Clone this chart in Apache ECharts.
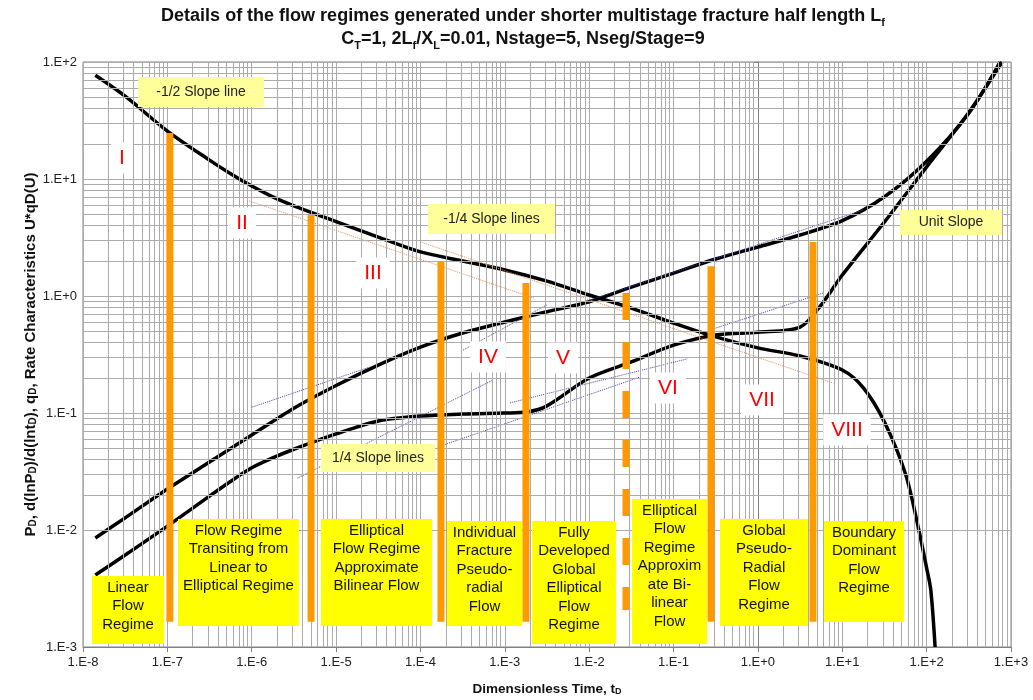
<!DOCTYPE html>
<html>
<head>
<meta charset="utf-8">
<title>Flow regimes - shorter multistage fracture half length</title>
<script src="https://cdn.jsdelivr.net/npm/echarts@6/dist/echarts.min.js"></script>
<style>
  html, body { margin: 0; padding: 0; background: #fff; }
  #chart { width: 1033px; height: 700px; }
</style>
</head>
<body>
<div id="chart"></div>
<script>
const fontFamily = '"Liberation Sans", Arial, sans-serif'

// curves: dimensionless time t_D and value
const qdT = [1.4e-8, 3.16e-8, 1e-7, 3.16e-7, 5.5e-7, 1e-6, 1.8e-6, 3.16e-6, 1e-5, 3.16e-5, 1e-4, 3.16e-4, 1e-3, 3.16e-3, 1e-2, 3.16e-2, 0.1, 0.316, 1, 3.16, 10, 17.8, 31.6, 56.2, 79.4, 100, 112, 126]
const qdV = [77, 51, 25.7, 14.5, 11.2, 8.7, 7.0, 5.9, 4.33, 3.19, 2.38, 1.99, 1.67, 1.34, 1.02, 0.789, 0.587, 0.447, 0.36, 0.307, 0.233, 0.164, 0.0838, 0.0301, 0.0106, 0.00473, 0.00307, 0.001]

const pdT = [1.4e-8, 3.16e-8, 1e-7, 3.16e-7, 1e-6, 3.16e-6, 1e-5, 3.16e-5, 1e-4, 3.16e-4, 1e-3, 3.16e-3, 1e-2, 3.16e-2, 0.1, 0.316, 1, 3.16, 10, 31.6, 100, 316, 741]
const pdV = [0.00855, 0.0127, 0.0224, 0.0381, 0.0649, 0.11, 0.172, 0.257, 0.366, 0.483, 0.6, 0.733, 0.893, 1.19, 1.57, 2.07, 2.62, 3.32, 4.4, 7.05, 14.2, 36.5, 100]

const derivT = [1.4e-8, 3.16e-8, 1e-7, 3.16e-7, 5.6e-7, 1e-6, 1.8e-6, 3.16e-6, 1e-5, 3.16e-5, 1e-4, 3.16e-4, 1e-3, 1.83e-3, 3.16e-3, 1e-2, 3.16e-2, 0.1, 0.316, 1, 3.16, 5.6, 10, 31.6, 100, 316, 783]
const derivV = [0.00412, 0.00611, 0.0108, 0.0195, 0.026, 0.034, 0.0415, 0.049, 0.0662, 0.0855, 0.0942, 0.098, 0.1, 0.102, 0.115, 0.199, 0.273, 0.38, 0.465, 0.49, 0.543, 0.837, 1.51, 4.29, 12.7, 37, 100]

// regime boundaries (orange bars)
const regimeT = [1.07e-7, 5.05e-6, 1.75e-4, 1.78e-3, 2.73e-2, 0.278, 4.5]
const regimeTop = [24.7, 4.92, 1.95, 1.29, 1.06, 1.8, 2.9]
const regimeBottom = [0.00164, 0.00164, 0.00164, 0.00164, 0.00207, 0.00164, 0.00164]
const regimeDashed = [false, false, false, false, true, false, false]

// slope guide lines: [start, end]
const quarterDownT = [[8.8e-7, 2.2e-3], [1e-4, 7.8]]
const quarterDownV = [[6.6, 0.96], [2.9, 0.18]]
const quarterUpT = [[1e-6, 2.5e-5], [3.2e-4, 3.16e-3], [3.5e-6, 7.2e-4], [1.15e-3, 0.145], [1.6e-4, 0.04], [0.27, 5.9], [0.0102, 17.6]]
const quarterUpV = [[0.112, 0.247], [0.345, 0.84], [0.0278, 0.191], [0.122, 0.29], [0.0512, 0.203], [0.512, 1.06], [0.925, 5.43]]

// axis range (decades) and tick labels
const tDecades = [-8, -7, -6, -5, -4, -3, -2, -1, 0, 1, 2, 3]
const vDecades = [-3, -2, -1, 0, 1, 2]

// annotation text
const regimeTexts = [
  'Linear\nFlow\nRegime',
  'Flow Regime\nTransiting from\nLinear to\nElliptical Regime',
  'Elliptical\nFlow Regime\nApproximate\nBilinear Flow',
  'Individual\nFracture\nPseudo-\nradial\nFlow',
  'Fully\nDeveloped\nGlobal\nElliptical\nFlow\nRegime',
  'Elliptical\nFlow\nRegime\nApproxim\nate Bi-\nlinear\nFlow',
  'Global\nPseudo-\nRadial\nFlow\nRegime',
  'Boundary\nDominant\nFlow\nRegime'
]
const slopeTexts = ['-1/2 Slope line', '-1/4 Slope lines', '1/4 Slope lines', 'Unit Slope']
const romanTexts = ['I', 'II', 'III', 'IV', 'V', 'VI', 'VII', 'VIII']

// layout of the annotation boxes (pixels)
const regimeBoxes = [
  [92, 576, 72, 68], [178, 519, 121, 107], [321, 519, 111, 107], [447, 521, 75, 105],
  [532, 521, 84, 123], [632, 499, 75, 145], [720, 519, 88, 107], [824, 521, 80, 101]
]
const slopeBoxes = [[138, 77, 126, 30], [428, 204, 127, 30], [321, 444, 114, 28], [900, 210, 102, 25]]
const romanPos = [[122, 158], [242, 223], [373, 273], [488, 357], [563, 358], [668, 388], [762, 400], [847, 430]]

const gridColor = '#ababab'

// x axis works on log10(t_D) so every decade gets a tick
const lx = t => Math.log10(t)

function expText(e) {
  return '1.E' + (e >= 0 ? '+' : '-') + Math.abs(e)
}

function zip(ts, vs) {
  return ts.map((t, i) => [lx(t), vs[i]])
}

// minor gridlines at 2..9 of every decade
const minorLines = []
tDecades.slice(0, -1).forEach(e => {
  for (let k = 2; k <= 9; k++) minorLines.push({ xAxis: e + Math.log10(k) })
})
vDecades.slice(0, -1).forEach(e => {
  for (let k = 2; k <= 9; k++) minorLines.push({ yAxis: k * Math.pow(10, e) })
})

function subRich(size) {
  return { s: { fontFamily, fontSize: size, fontWeight: 'bold', color: '#111', verticalAlign: 'bottom', lineHeight: size + 1 } }
}

const series = []

series.push({
  type: 'line',
  data: [],
  z: 1,
  silent: true,
  markLine: {
    silent: true,
    animation: false,
    symbol: ['none', 'none'],
    label: { show: false },
    lineStyle: { color: gridColor, width: 1, type: 'solid' },
    emphasis: { disabled: true },
    data: minorLines
  }
})

function curve(name, ts, vs) {
  return {
    name,
    type: 'line',
    data: zip(ts, vs),
    showSymbol: false,
    smooth: 0.3,
    z: 3,
    lineStyle: { color: '#000', width: 3.5 }
  }
}

series.push(curve('qD', qdT, qdV))
series.push(curve('PD', pdT, pdV))
series.push(curve('derivative', derivT, derivV))

quarterDownT.forEach((ts, i) => {
  series.push({
    type: 'line',
    data: zip(ts, quarterDownV[i]),
    showSymbol: false,
    z: 4,
    lineStyle: { color: '#f08a4a', width: 1, type: 'dotted' }
  })
})

quarterUpT.forEach((ts, i) => {
  series.push({
    type: 'line',
    data: zip(ts, quarterUpV[i]),
    showSymbol: false,
    z: 4,
    lineStyle: { color: '#3f3fa8', width: 1, type: 'dotted' }
  })
})

regimeT.forEach((t, i) => {
  series.push({
    type: 'line',
    data: [[lx(t), regimeTop[i]], [lx(t), regimeBottom[i]]],
    showSymbol: false,
    z: 5,
    lineStyle: { color: '#ff9900', width: 7, type: regimeDashed[i] ? [27, 22] : 'solid', cap: 'butt' }
  })
})

const graphics = []

graphics.push({
  type: 'text',
  x: 523,
  y: 5,
  z: 100,
  style: {
    text: '{b|Details of the flow regimes generated under shorter multistage fracture half length L}{s|f}\n' +
      '{b|C}{s|T}{b|=1, 2L}{s|f}{b|/X}{s|L}{b|=0.01, Nstage=5, Nseg/Stage=9}',
    align: 'center',
    verticalAlign: 'top',
    rich: {
      b: { fontFamily, fontSize: 18, fontWeight: 'bold', fill: '#111', lineHeight: 23, verticalAlign: 'middle' },
      s: { fontFamily, fontSize: 11, fontWeight: 'bold', fill: '#111', lineHeight: 11, verticalAlign: 'bottom' }
    }
  }
})

regimeBoxes.forEach((b, i) => {
  graphics.push({ type: 'rect', z: 100, shape: { x: b[0], y: b[1], width: b[2], height: b[3] }, style: { fill: '#ffff00' } })
  graphics.push({
    type: 'text', z: 101, x: b[0] + b[2] / 2, y: b[1] + 2.5,
    style: {
      text: regimeTexts[i], align: 'center', verticalAlign: 'top',
      fontFamily, fontSize: 15, lineHeight: 18.5, fill: '#111'
    }
  })
})

slopeBoxes.forEach((b, i) => {
  graphics.push({ type: 'rect', z: 100, shape: { x: b[0], y: b[1], width: b[2], height: b[3] }, style: { fill: '#ffff99' } })
  graphics.push({
    type: 'text', z: 101, x: b[0] + b[2] / 2, y: b[1] + b[3] / 2,
    style: {
      text: slopeTexts[i], align: 'center', verticalAlign: 'middle',
      fontFamily, fontSize: 14, fill: '#222'
    }
  })
})

romanPos.forEach((p, i) => {
  graphics.push({
    type: 'text', z: 101, x: p[0], y: p[1],
    style: {
      text: romanTexts[i], align: 'center', verticalAlign: 'middle',
      fontFamily, fontSize: 21, fill: '#ff0000',
      backgroundColor: '#ffffff', padding: [5, 8]
    }
  })
})

const chart = echarts.init(document.getElementById('chart'), null, { renderer: 'canvas' })

chart.setOption({
  animation: false,
  backgroundColor: '#ffffff',
  grid: {
    left: 83, right: 22, top: 62, bottom: 53,
    outerBoundsMode: 'none',
    show: true, borderColor: '#808080', borderWidth: 1, backgroundColor: '#ffffff'
  },
  xAxis: {
    type: 'value',
    min: tDecades[0],
    max: tDecades[tDecades.length - 1],
    interval: 1,
    name: 'Dimensionless Time, t{s|D}',
    nameLocation: 'middle',
    nameGap: 35,
    nameMoveOverlap: false,
    nameTextStyle: { fontFamily, fontSize: 13.5, fontWeight: 'bold', color: '#111', rich: subRich(9) },
    axisLine: { lineStyle: { color: '#808080' } },
    axisTick: { show: true, length: 5, lineStyle: { color: '#808080' } },
    axisLabel: { formatter: v => expText(Math.round(v)), fontFamily, fontSize: 13, color: '#222', margin: 9 },
    splitLine: { show: true, lineStyle: { color: gridColor, width: 1 } }
  },
  yAxis: {
    type: 'log',
    logBase: 10,
    min: Math.pow(10, vDecades[0]),
    max: Math.pow(10, vDecades[vDecades.length - 1]),
    name: 'P{s|D}, d(lnP{s|D})/d(lnt{s|D}), q{s|D}, Rate Characteristics U*qD(U)',
    nameLocation: 'middle',
    nameRotate: 90,
    nameGap: 45,
    nameMoveOverlap: false,
    nameTextStyle: { fontFamily, fontSize: 15, fontWeight: 'bold', color: '#111', rich: subRich(10) },
    axisLine: { show: true, lineStyle: { color: '#808080' } },
    axisTick: { show: true, length: 5, lineStyle: { color: '#808080' } },
    axisLabel: { formatter: v => expText(Math.round(Math.log10(v))), fontFamily, fontSize: 13, color: '#222', margin: 6 },
    splitLine: { show: true, lineStyle: { color: gridColor, width: 1 } }
  },
  series,
  graphic: graphics
})

window.addEventListener('resize', () => chart.resize())
</script>
</body>
</html>
